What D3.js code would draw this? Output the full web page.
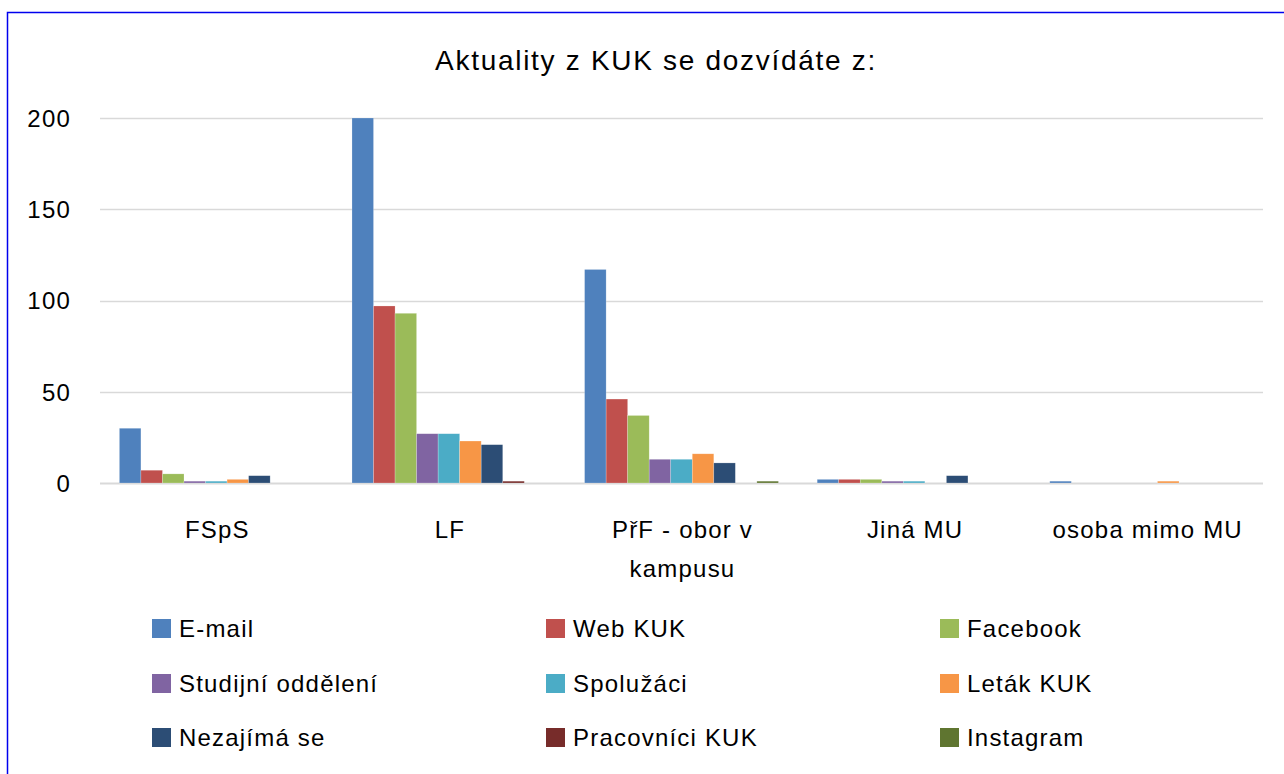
<!DOCTYPE html>
<html><head><meta charset="utf-8">
<script src="https://cdn.jsdelivr.net/npm/d3@7"></script>
<style>html,body{margin:0;padding:0;background:#fff;}svg{display:block;font-family:"Liberation Sans",Arial,sans-serif;letter-spacing:1.2px;}</style>
</head><body>
<svg id="c" width="1284" height="774"></svg>
<script>
const categories = ["FSpS", "LF", "PřF - obor v kampusu", "Jiná MU", "osoba mimo MU"];
const seriesNames = ["E-mail", "Web KUK", "Facebook", "Studijní oddělení", "Spolužáci", "Leták KUK", "Nezajímá se", "Pracovníci KUK", "Instagram"];
const emailVals = [30, 200, 117, 2, 1];
const webVals = [7, 97, 46, 2, 0];
const facebookVals = [5, 93, 37, 2, 0];
const studijniVals = [1, 27, 13, 1, 0];
const spoluzaciVals = [1, 27, 13, 1, 0];
const letakVals = [2, 23, 16, 0, 1];
const nezajimaVals = [4, 21, 11, 4, 0];
const pracovniciVals = [0, 1, 0, 0, 0];
const instagramVals = [0, 0, 1, 0, 0];
const yTicks = [0, 50, 100, 150, 200];
const colors = ["#4F81BD", "#C0504D", "#9BBB59", "#8064A2", "#4BACC6", "#F79646", "#2C4D75", "#772C2A", "#5F7530"];

const seriesVals = [emailVals, webVals, facebookVals, studijniVals, spoluzaciVals, letakVals, nezajimaVals, pracovniciVals, instagramVals];

(function(){
const FS = 24;
const svg = d3.select("#c");
svg.append("path").attr("d", "M7.5,1000 L7.5,12.5 L1300,12.5").attr("fill", "none").attr("stroke", "#0000ee").attr("stroke-width", 1.5);

const pLeft = 100, pRight = 1263, pTop = 118, pBottom = 483;
const x0 = d3.scaleBand().domain(categories).range([pLeft, pRight]).paddingInner(0).paddingOuter(0);
const x1 = d3.scaleBand().domain(seriesNames).range([0, x0.bandwidth()]).paddingOuter(0.9).paddingInner(0);
const y = d3.scaleLinear().domain([0, 200]).range([pBottom, pTop]);

svg.append("text").attr("x", 656).attr("y", 70).attr("text-anchor", "middle").attr("font-size", 28).attr("letter-spacing", "1.7px").attr("fill", "#000").text("Aktuality z KUK se dozvídáte z:");

svg.append("g").selectAll("line").data(yTicks).join("line")
  .attr("x1", pLeft).attr("x2", pRight).attr("y1", d => Math.round(y(d)) + 0.5).attr("y2", d => Math.round(y(d)) + 0.5)
  .attr("stroke", "#d9d9d9").attr("stroke-width", d => d === 0 ? 2 : 1.3);

const yAxis = d3.axisLeft(y).tickValues(yTicks).tickSize(0).tickPadding(0);
const gy = svg.append("g").attr("transform", `translate(71,0)`).call(yAxis);
gy.select(".domain").remove();
gy.selectAll("text").attr("font-size", FS).attr("fill", "#000").attr("font-family", null).attr("dy", "0.35em");

const groups = svg.append("g").selectAll("g").data(categories).join("g")
  .attr("transform", d => `translate(${x0(d)},0)`);
groups.selectAll("rect").data((c, ci) => seriesNames.map((s, si) => ({s, si, v: seriesVals[si][ci]})))
  .join("rect")
  .attr("x", d => x1(d.s)).attr("width", x1.bandwidth())
  .attr("y", d => y(d.v)).attr("height", d => pBottom - y(d.v))
  .attr("fill", d => colors[d.si])
  .attr("stroke", "rgba(255,255,255,0.35)").attr("stroke-width", 0.6);

const xAxis = d3.axisBottom(x0).tickSize(0).tickPadding(0);
const gx = svg.append("g").attr("transform", `translate(0,${pBottom})`).call(xAxis);
gx.select(".domain").remove();
gx.selectAll("text").remove();
const catLines = {"PřF - obor v kampusu": ["PřF - obor v", "kampusu"]};
gx.selectAll("g.tick").each(function(d) {
  const lines = catLines[d] || [d];
  const t = d3.select(this).append("text").attr("text-anchor", "middle").attr("font-size", FS).attr("fill", "#000");
  lines.forEach((l, i) => t.append("tspan").attr("x", 1).attr("y", 55 + i * 39).text(l));
});

const legCols = [152, 546, 940];
const legRows = [628, 683, 737];
const leg = svg.append("g").selectAll("g").data(seriesNames).join("g")
  .attr("transform", (d, i) => `translate(${legCols[i % 3]},${legRows[Math.floor(i / 3)]})`);
leg.append("rect").attr("x", 0).attr("y", -9).attr("width", 19).attr("height", 19).attr("fill", (d, i) => colors[i]);
leg.append("text").attr("x", 27).attr("y", 1).attr("dy", "0.35em").attr("font-size", FS).attr("fill", "#000").text(d => d);
})();
</script>
</body></html>
